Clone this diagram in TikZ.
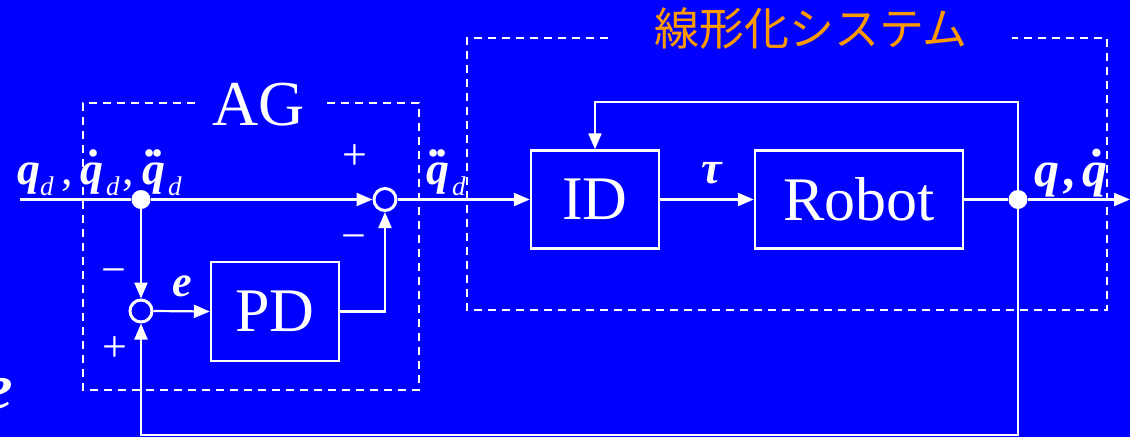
\documentclass[tikz,border=0pt]{standalone}
\usepackage{fontspec}
\setmainfont{Liberation Serif}
\newfontfamily\cjk{Noto Sans CJK JP}
\usetikzlibrary{arrows.meta}
\definecolor{bg}{RGB}{0,0,255}
\definecolor{ttl}{RGB}{255,153,0}
\newcommand\fs[1]{\fontsize{#1pt}{#1pt}\selectfont}
\newcommand\Bq{{\bfseries\itshape q}}
\newcommand\Sd{\raisebox{-11pt}{\fs{27}\itshape d}}
\newcommand\Dt{{\bfseries\itshape .}}
\newcommand\Bqd{\rlap{\hspace{0.2em}\raisebox{0.6em}{\Dt}}\Bq}
\newcommand\Bqdd{\rlap{\hspace{0.07em}\raisebox{0.6em}{\Dt\hspace{-0.08em}\Dt}}\Bq}
\begin{document}
\begin{tikzpicture}[x=1pt,y=-1pt,
  sig/.style={white, line width=2.2pt},
  arr/.style={sig, -{Triangle[length=16pt,width=13pt]}},
  blk/.style={draw=white, line width=2.4pt, inner sep=0pt, text=white, font=\fs{62}},
  sumnode/.style={circle, draw=white, line width=3pt, minimum size=22pt, inner sep=0pt},
  joint/.style={circle, fill=white, minimum size=19pt, inner sep=0pt},
  dashbox/.style={white, line width=2pt, dash pattern=on 8pt off 6pt},
  lbl/.style={text=white, inner sep=0pt},
]
\useasboundingbox (0,0) rectangle (1130,437);
\fill[bg] (0,0) rectangle (1130,437);

% dashed group boxes
\draw[dashbox] (195,103) -- (83,103) -- (83,390) -- (419,390) -- (419,103) -- (327,103);
\draw[dashbox] (608,38) -- (467,38) -- (467,310) -- (1107,310) -- (1107,38) -- (1012,38);
\node[lbl, anchor=base, font=\fs{64}] (ag) at (259,125) {AG};
\node[text=ttl, inner sep=0pt, font=\cjk\fs{45}] (sys) at (811,29) {線形化システム};

% blocks
\node[blk, minimum width=128pt, minimum height=98pt] (ID) at (595,199.5) {ID};
\node[blk, minimum width=208pt, minimum height=98pt] (Rob) at (859,199.5) {Robot};
\node[blk, minimum width=128pt, minimum height=99pt] (PD) at (275,311.5) {PD};

% summing points and junctions
\node[sumnode] (s1) at (385,199.5) {};
\node[sumnode] (s2) at (141,311) {};
\node[joint] (j1) at (141,199.5) {};
\node[joint] (j2) at (1018,199.5) {};

\coordinate (in) at (20,199.5);
\coordinate (out) at (1130,199.5);
\coordinate (ctop) at (595,102);
\coordinate (cbot) at (141,435);

% connectors
\draw[sig] (in) -- (j1);
\draw[arr] (j1) -- (s1.west);
\draw[arr] (s1.east) -- (ID.west);
\draw[arr] (ID.east) -- (Rob.west);
\draw[sig] (Rob.east) -- (j2);
\draw[arr] (j2) -- (out);
\draw[arr] (j2) |- (ctop) -- (ID.north);
\draw[arr] (j2) |- (cbot) -- (s2.south);
\draw[arr] (j1) -- (s2.north);
\draw[arr] (s2.east) -- (PD.west);
\draw[arr] (PD.east) -| (s1.south);

% signal labels
\node[lbl, anchor=base west, font=\fs{46}] (inlbl) at (17,184)
  {\Bq\Sd\hspace{8pt},\hspace{7pt}\Bqd\hspace{3pt}\Sd\hspace{3pt},\hspace{8pt}\Bqdd\hspace{3pt}\Sd};
\node[lbl, anchor=base west, font=\fs{46}] (qdd) at (426,184) {\Bqdd\hspace{3pt}\Sd};
\node[lbl, anchor=base, font=\fs{46}\bfseries\itshape] (tau) at (712,183) {τ};
\node[lbl, anchor=base west, font=\fs{50}] (qout) at (1034,186) {\Bq\hspace{5pt}{\bfseries\itshape ,}\hspace{6pt}\Bqd};
\node[lbl, anchor=base, font=\fs{44}\bfseries\itshape] (err) at (182,296) {e};
\node[lbl, anchor=base west, font=\fs{64}\bfseries\itshape] (cut) at (-16,408) {e};

% signs
\node[lbl, anchor=base, font=\fs{44}] (p1) at (355,169) {+};
\node[lbl, anchor=base, font=\fs{44}] (m1) at (354,250) {−};
\node[lbl, anchor=base, font=\fs{44}] (m2) at (114,284) {−};
\node[lbl, anchor=base, font=\fs{44}] (p2) at (115,361) {+};
\end{tikzpicture}
\end{document}
